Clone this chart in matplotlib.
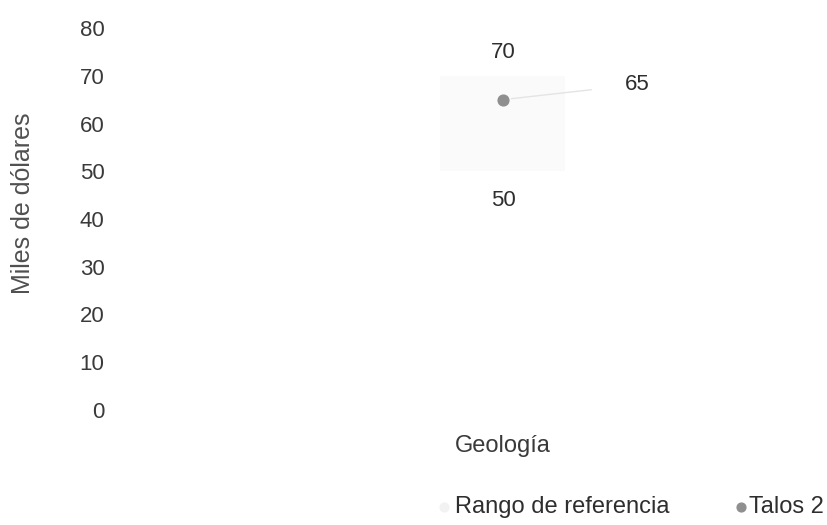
import matplotlib
matplotlib.use("Agg")
import matplotlib.pyplot as plt

# chart values
categories = ["Geología"]
range_low = [50]
range_high = [70]
talos_values = [65]
y_ticks = [0, 10, 20, 30, 40, 50, 60, 70, 80]
legend_labels = ["Rango de referencia", "Talos 2"]

plt.rcParams['font.family'] = ['Liberation Sans', 'DejaVu Sans']

fig = plt.figure(figsize=(8.28, 5.25), dpi=100)
W, H = 828, 525
# axes: y=0 at px 410, y=80 at px 28 (from top)
ax = fig.add_axes([115 / W, (H - 410) / H, (820 - 115) / W, (410 - 28) / H])

# x so that category sits at px 503
left_frac = (503 - 115) / (820 - 115)
ax.set_xlim(-left_frac, 1 - left_frac)
ax.set_ylim(0, 80)

xs = list(range(len(categories)))
TXT = "#2e2e2e"

# very faint reference range
ax.bar(xs, [h - l for h, l in zip(range_high, range_low)], bottom=range_low,
       width=125 / 705, color="#fafafa", zorder=1)

# Talos 2 point
ax.scatter(xs, talos_values, s=60, color="#8f8f8f", zorder=3)

for x, lo, hi, v in zip(xs, range_low, range_high, talos_values):
    ax.annotate(str(hi), (x, hi), xytext=(0, 23), textcoords="offset pixels",
                ha="center", va="center", fontsize=16, color=TXT)
    ax.annotate(str(lo), (x, lo), xytext=(0, -29), textcoords="offset pixels",
                ha="center", va="center", fontsize=16, color=TXT)
    ax.annotate(str(v), (x, v), xytext=(134, 15), textcoords="offset pixels",
                ha="center", va="center", fontsize=16, color=TXT,
                arrowprops=dict(arrowstyle="-", color="#e4e4e4", lw=1,
                                shrinkA=22, shrinkB=6))

ax.set_yticks(y_ticks)
ax.set_yticklabels([str(t) for t in y_ticks], fontsize=16, color="#3a3a3a")
ax.set_xticks([])
ax.tick_params(axis="y", length=0, pad=7.5)
for s in ax.spines.values():
    s.set_visible(False)

fig.text(23 / W, 1 - 203 / H, "Miles de dólares", rotation=90, ha="center",
         va="center", fontsize=18, color="#505050")
fig.text(503 / W, 1 - 446 / H, categories[0], ha="center", va="center",
         fontsize=17, color="#3a3a3a")

# legend drawn by hand to match the spacing
fig.text(455 / W, 1 - 507 / H, legend_labels[0], ha="left", va="center",
         fontsize=17, color=TXT)
fig.text(749 / W, 1 - 507 / H, legend_labels[1], ha="left", va="center",
         fontsize=17, color=TXT)
lax = fig.add_axes([0, 0, 1, 1], facecolor="none")
lax.set_xlim(0, W)
lax.set_ylim(H, 0)
lax.axis("off")
lax.scatter([444], [507], s=40, color="#f2f2f2")
lax.scatter([741], [507], s=40, color="#8f8f8f")

fig.savefig("out.png", dpi=100)
